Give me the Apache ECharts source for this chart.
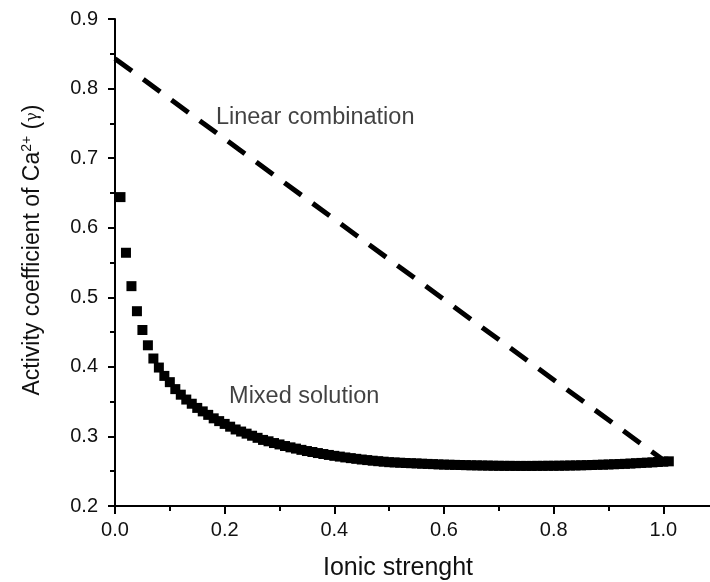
<!DOCTYPE html>
<html>
<head>
<meta charset="utf-8">
<script src="https://cdn.jsdelivr.net/npm/echarts@6/dist/echarts.min.js"></script>
<style>html,body{margin:0;padding:0;background:#fff}#c{width:710px;height:582px}</style>
</head>
<body>
<div id="c"></div>
<script>
const xTicks = [0.0, 0.2, 0.4, 0.6, 0.8, 1.0];
const yTicks = [0.2, 0.3, 0.4, 0.5, 0.6, 0.7, 0.8, 0.9];

const ionicStrength = [
  0.01,0.02,0.03,0.04,0.05,0.06,0.07,0.08,0.09,0.10,
  0.11,0.12,0.13,0.14,0.15,0.16,0.17,0.18,0.19,0.20,
  0.21,0.22,0.23,0.24,0.25,0.26,0.27,0.28,0.29,0.30,
  0.31,0.32,0.33,0.34,0.35,0.36,0.37,0.38,0.39,0.40,
  0.41,0.42,0.43,0.44,0.45,0.46,0.47,0.48,0.49,0.50,
  0.51,0.52,0.53,0.54,0.55,0.56,0.57,0.58,0.59,0.60,
  0.61,0.62,0.63,0.64,0.65,0.66,0.67,0.68,0.69,0.70,
  0.71,0.72,0.73,0.74,0.75,0.76,0.77,0.78,0.79,0.80,
  0.81,0.82,0.83,0.84,0.85,0.86,0.87,0.88,0.89,0.90,
  0.91,0.92,0.93,0.94,0.95,0.96,0.97,0.98,0.99,1.00,1.01
];
const mixedSolution = [
  0.644,0.564,0.516,0.480,0.453,0.431,0.412,0.399,0.387,0.378,
  0.368,0.360,0.353,0.347,0.341,0.336,0.331,0.326,0.322,0.318,
  0.314,0.310,0.307,0.304,0.301,0.298,0.295,0.293,0.2905,0.2885,
  0.2862,0.2843,0.2825,0.2807,0.279,0.2776,0.2761,0.2747,0.2734,0.2721,
  0.271,0.2698,0.2688,0.2678,0.2668,0.266,0.2651,0.2644,0.2637,0.263,
  0.2626,0.2622,0.2618,0.2615,0.2612,0.2608,0.2605,0.2602,0.2598,0.2595,
  0.2593,0.2591,0.2589,0.2587,0.2585,0.2584,0.2582,0.2581,0.2579,0.2578,
  0.2577,0.2577,0.2576,0.2576,0.2576,0.2576,0.2577,0.2577,0.2578,0.2578,
  0.2579,0.2580,0.2582,0.2583,0.2585,0.2587,0.2589,0.2592,0.2594,0.2597,
  0.2600,0.2603,0.2606,0.2610,0.2615,0.2619,0.2623,0.2627,0.2632,0.2637,0.2642
];
const linearX = [0.0, 1.0];
const linearY = [0.843, 0.266];

const labels = [
  { text: 'Linear combination', x: 0.184, y: 0.758 },
  { text: 'Mixed solution', x: 0.208, y: 0.358 }
];

const font = 'Liberation Sans, Arial, sans-serif';
const ink = '#111';
const chart = echarts.init(document.getElementById('c'), null, { renderer: 'canvas' });

chart.setOption({
  backgroundColor: '#fff',
  animation: false,
  grid: { left: 115, top: 19, height: 487, width: 658, containLabel: false, outerBoundsMode: 'none' },
  xAxis: {
    type: 'value', min: 0, max: 1.2, interval: 0.2,
    axisLine: { show: true, onZero: false, lineStyle: { color: '#000', width: 2 } },
    axisTick: { show: true, inside: false, length: 8, lineStyle: { color: '#000', width: 2 } },
    minorTick: { show: true, splitNumber: 2, length: 5, lineStyle: { color: '#000', width: 2 } },
    axisLabel: {
      fontFamily: font, fontSize: 20, color: ink, margin: 14,
      formatter: v => { const t = xTicks.find(k => Math.abs(k - v) < 1e-6); return t === undefined ? '' : t.toFixed(1); }
    },
    splitLine: { show: false }
  },
  yAxis: {
    type: 'value', min: 0.2, max: 0.9, interval: 0.1,
    axisLine: { show: true, onZero: false, lineStyle: { color: '#000', width: 2 } },
    axisTick: { show: true, inside: false, length: 7, lineStyle: { color: '#000', width: 2 } },
    minorTick: { show: true, splitNumber: 2, length: 5, lineStyle: { color: '#000', width: 2 } },
    axisLabel: {
      fontFamily: font, fontSize: 20, color: ink, margin: 17,
      formatter: v => { const t = yTicks.find(k => Math.abs(k - v) < 1e-6); return t === undefined ? '' : t.toFixed(1); }
    },
    splitLine: { show: false }
  },
  graphic: [
    {
      type: 'text', x: 398, y: 568,
      style: { text: 'Ionic strenght', font: '25px ' + font, fill: ink, align: 'center', verticalAlign: 'middle' },
      z: 10
    },
    {
      type: 'text', rotation: Math.PI / 2, x: 33, y: 250,
      style: {
        text: '{n|Activity coefficient of Ca}{s|2+}{n| (}{g|γ}{n|)}',
        align: 'center', verticalAlign: 'middle',
        rich: {
          n: { fontFamily: font, fontSize: 23, fill: ink },
          s: { fontFamily: font, fontSize: 14, fill: ink, verticalAlign: 'top', padding: [0, 0, 12, 0] },
          g: { fontFamily: 'DejaVu Serif, serif', fontSize: 16, fill: ink }
        }
      },
      z: 10
    }
  ],
  series: [
    {
      type: 'line', name: 'Linear combination',
      data: linearX.map((x, i) => [x, linearY[i]]),
      showSymbol: false, symbol: 'none',
      lineStyle: { color: '#000', width: 5, type: [21, 14] },
      z: 2
    },
    {
      type: 'scatter', name: 'Mixed solution',
      data: ionicStrength.map((x, i) => [x, mixedSolution[i]]),
      symbol: 'rect', symbolSize: 10,
      itemStyle: { color: '#000', opacity: 1 },
      z: 3
    },
    {
      type: 'scatter', name: 'labels', symbolSize: 0,
      data: labels.map(l => ({ value: [l.x, l.y], label: { formatter: l.text } })),
      label: { show: true, position: 'right', distance: 0, fontFamily: font, fontSize: 23.5, color: ink },
      silent: true, z: 4
    }
  ]
});
</script>
</body>
</html>
